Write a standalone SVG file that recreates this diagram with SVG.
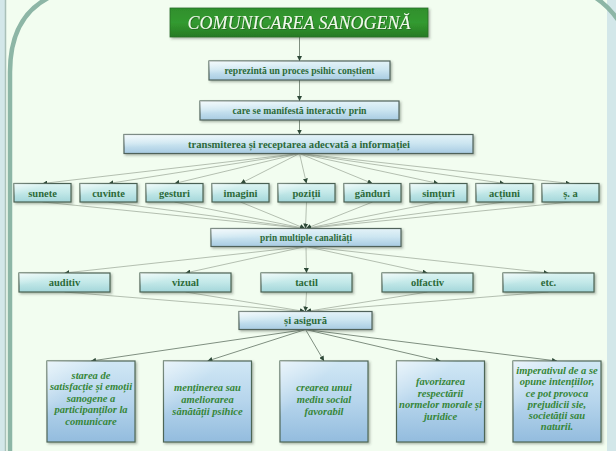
<svg xmlns="http://www.w3.org/2000/svg" width="616" height="451" viewBox="0 0 616 451">
  <defs>
    <style>
      .hdr { fill: url(#gBlue); stroke: #4f625a; stroke-width: 1.2; filter: url(#shadow); }
      .item { fill: url(#gTeal); stroke: #4a6152; stroke-width: 1.2; filter: url(#shadow); }
      .leaf { fill: url(#gLeaf); stroke: #4d6656; stroke-width: 1.2; filter: url(#shadow); }
      .sheen { fill: url(#gSheen); }
      .lbl { font-family: 'Liberation Serif', Tinos, 'DejaVu Serif', serif; font-weight: bold; font-size: 10.5px; fill: #2c6a39; text-anchor: middle; }
      .leaftxt { font-family: 'Liberation Serif', Tinos, 'DejaVu Serif', serif; font-weight: bold; font-style: italic; font-size: 10.5px; fill: #368638; text-anchor: middle; }
      .title { font-family: 'Liberation Serif', Tinos, 'DejaVu Serif', serif; font-style: italic; font-size: 18px; fill: #f1f9ec; text-anchor: middle; }
      .wire { stroke: #a3ae9f; stroke-width: 0.8; fill: none; marker-end: url(#tip); }
      .stem { stroke: #7f8f80; stroke-width: 1; fill: none; marker-end: url(#tip); }
    </style>
    <linearGradient id="gBlue" x1="0" y1="0" x2="0" y2="1">
      <stop offset="0" stop-color="#e4f3f8"/>
      <stop offset="0.45" stop-color="#cde6f1"/>
      <stop offset="1" stop-color="#a7cbe2"/>
    </linearGradient>
    <linearGradient id="gTeal" x1="0" y1="0" x2="0" y2="1">
      <stop offset="0" stop-color="#dcf4f2"/>
      <stop offset="0.5" stop-color="#c2e8e8"/>
      <stop offset="1" stop-color="#a3d6da"/>
    </linearGradient>
    <linearGradient id="gLeaf" x1="0" y1="0" x2="0" y2="1">
      <stop offset="0" stop-color="#d0e7f5"/>
      <stop offset="0.5" stop-color="#b6d5ec"/>
      <stop offset="1" stop-color="#93bcde"/>
    </linearGradient>
    <linearGradient id="gSheen" x1="0" y1="0" x2="1" y2="1">
      <stop offset="0" stop-color="#ffffff" stop-opacity="0.55"/>
      <stop offset="0.35" stop-color="#ffffff" stop-opacity="0"/>
    </linearGradient>
    <linearGradient id="gTitle" x1="0" y1="0" x2="0" y2="1">
      <stop offset="0" stop-color="#2f8f2c"/>
      <stop offset="0.5" stop-color="#339a30"/>
      <stop offset="1" stop-color="#267a24"/>
    </linearGradient>
    <filter id="shadow" x="-10%" y="-20%" width="125%" height="150%">
      <feDropShadow dx="1.5" dy="1.5" stdDeviation="1" flood-color="#3c4a40" flood-opacity="0.4"/>
    </filter>
    <filter id="tshadow" x="-5%" y="-20%" width="110%" height="150%">
      <feDropShadow dx="0.8" dy="0.8" stdDeviation="0.5" flood-color="#1c4a18" flood-opacity="0.6"/>
    </filter>
    <marker id="tip" viewBox="0 0 10 10" refX="10" refY="5" markerWidth="5" markerHeight="5" markerUnits="userSpaceOnUse" orient="auto">
      <path d="M0,0 L10,5 L0,10 z" fill="#2e4a38"/>
    </marker>
  </defs>

  <!-- backdrop and framed panel -->
  <rect x="0" y="0" width="616" height="451" fill="#d3e7e9"/>
  <rect x="6" y="0" width="601" height="451" fill="#f2fdf0"/>
  <line x1="5.5" y1="0" x2="5.5" y2="451" stroke="#a9c0b8" stroke-width="1.5"/>
  <path d="M10,451 L10,72 Q10,18 48,-2" fill="none" stroke="#8db6a6" stroke-width="4.5"/>
  <path d="M596,-2 Q611,8 622,26" fill="none" stroke="#8db6a6" stroke-width="4.5"/>

  <!-- connectors -->
  <g id="connectors">
    <line class="stem" x1="299.5" y1="37" x2="299.5" y2="61"/>
    <line class="stem" x1="299.5" y1="80" x2="299.5" y2="101"/>
    <line class="stem" x1="299.5" y1="120" x2="299.5" y2="134.5"/>

    <line class="wire" x1="299.5" y1="153.5" x2="42.5" y2="183.5"/>
    <line class="wire" x1="299.5" y1="153.5" x2="108.5" y2="183.5"/>
    <line class="wire" x1="299.5" y1="153.5" x2="174.5" y2="183.5"/>
    <line class="wire" x1="299.5" y1="153.5" x2="240.5" y2="183.5"/>
    <line class="wire" x1="299.5" y1="153.5" x2="306.5" y2="183.5"/>
    <line class="wire" x1="299.5" y1="153.5" x2="372.5" y2="183.5"/>
    <line class="wire" x1="299.5" y1="153.5" x2="438.5" y2="183.5"/>
    <line class="wire" x1="299.5" y1="153.5" x2="504.5" y2="183.5"/>
    <line class="wire" x1="299.5" y1="153.5" x2="570.5" y2="183.5"/>

    <line class="wire" x1="42.5" y1="202" x2="305" y2="228.5"/>
    <line class="wire" x1="108.5" y1="202" x2="305" y2="228.5"/>
    <line class="wire" x1="174.5" y1="202" x2="305" y2="228.5"/>
    <line class="wire" x1="240.5" y1="202" x2="305" y2="228.5"/>
    <line class="wire" x1="306.5" y1="202" x2="305.5" y2="228.5"/>
    <line class="wire" x1="372.5" y1="202" x2="306" y2="228.5"/>
    <line class="wire" x1="438.5" y1="202" x2="306" y2="228.5"/>
    <line class="wire" x1="504.5" y1="202" x2="306" y2="228.5"/>
    <line class="wire" x1="570.5" y1="202" x2="306" y2="228.5"/>

    <line class="wire" x1="306" y1="246.5" x2="64.5" y2="273"/>
    <line class="wire" x1="306" y1="246.5" x2="185.5" y2="273"/>
    <line class="wire" x1="306" y1="246.5" x2="306.5" y2="273"/>
    <line class="wire" x1="306" y1="246.5" x2="427.5" y2="273"/>
    <line class="wire" x1="306" y1="246.5" x2="548.5" y2="273"/>

    <line class="wire" x1="64.5" y1="292" x2="305" y2="311.5"/>
    <line class="wire" x1="185.5" y1="292" x2="305" y2="311.5"/>
    <line class="wire" x1="306.5" y1="292" x2="305.5" y2="311.5"/>
    <line class="wire" x1="427.5" y1="292" x2="306" y2="311.5"/>
    <line class="wire" x1="548.5" y1="292" x2="306" y2="311.5"/>

    <line class="stem" x1="305.5" y1="329.5" x2="91" y2="361"/>
    <line class="stem" x1="305.5" y1="329.5" x2="207.5" y2="361"/>
    <line class="stem" x1="305.5" y1="329.5" x2="324" y2="361"/>
    <line class="stem" x1="305.5" y1="329.5" x2="440.5" y2="361"/>
    <line class="stem" x1="305.5" y1="329.5" x2="557" y2="361"/>
  </g>

  <!-- title -->
  <g id="title">
    <rect x="170" y="8" width="258" height="29" fill="url(#gTitle)" stroke="#2a6e26" stroke-width="0.8" filter="url(#shadow)"/>
    <text class="title" x="299" y="28.5" textLength="223" lengthAdjust="spacingAndGlyphs" filter="url(#tshadow)">COMUNICAREA SANOGENĂ</text>
  </g>

  <!-- chain of statements -->
  <g id="n-reprezinta">
    <rect class="hdr" x="209" y="61" width="181" height="19"/>
    <rect class="sheen" x="209" y="61" width="181" height="19"/>
    <text class="lbl" x="299.5" y="74" textLength="150" lengthAdjust="spacingAndGlyphs">reprezintă un proces psihic conștient</text>
  </g>
  <g id="n-manifesta">
    <rect class="hdr" x="200" y="101" width="199" height="19"/>
    <rect class="sheen" x="200" y="101" width="199" height="19"/>
    <text class="lbl" x="299.5" y="114" textLength="134" lengthAdjust="spacingAndGlyphs">care se manifestă interactiv prin</text>
  </g>
  <g id="n-transmiterea">
    <rect class="hdr" x="124" y="134.5" width="349" height="19"/>
    <rect class="sheen" x="124" y="134.5" width="349" height="19"/>
    <text class="lbl" x="299" y="147.5" textLength="222" lengthAdjust="spacingAndGlyphs">transmiterea și receptarea adecvată a informației</text>
  </g>

  <!-- forms of expression -->
  <g id="n-sunete"><rect class="item" x="14" y="183.5" width="57" height="18.5"/><rect class="sheen" x="14" y="183.5" width="57" height="18.5"/><text class="lbl" x="42.5" y="196.5">sunete</text></g>
  <g id="n-cuvinte"><rect class="item" x="80" y="183.5" width="57" height="18.5"/><rect class="sheen" x="80" y="183.5" width="57" height="18.5"/><text class="lbl" x="108.5" y="196.5">cuvinte</text></g>
  <g id="n-gesturi"><rect class="item" x="146" y="183.5" width="57" height="18.5"/><rect class="sheen" x="146" y="183.5" width="57" height="18.5"/><text class="lbl" x="174.5" y="196.5">gesturi</text></g>
  <g id="n-imagini"><rect class="item" x="212" y="183.5" width="57" height="18.5"/><rect class="sheen" x="212" y="183.5" width="57" height="18.5"/><text class="lbl" x="240.5" y="196.5">imagini</text></g>
  <g id="n-pozitii"><rect class="item" x="278" y="183.5" width="57" height="18.5"/><rect class="sheen" x="278" y="183.5" width="57" height="18.5"/><text class="lbl" x="306.5" y="196.5">poziții</text></g>
  <g id="n-ganduri"><rect class="item" x="344" y="183.5" width="57" height="18.5"/><rect class="sheen" x="344" y="183.5" width="57" height="18.5"/><text class="lbl" x="372.5" y="196.5">gânduri</text></g>
  <g id="n-simturi"><rect class="item" x="410" y="183.5" width="57" height="18.5"/><rect class="sheen" x="410" y="183.5" width="57" height="18.5"/><text class="lbl" x="438.5" y="196.5">simțuri</text></g>
  <g id="n-actiuni"><rect class="item" x="476" y="183.5" width="57" height="18.5"/><rect class="sheen" x="476" y="183.5" width="57" height="18.5"/><text class="lbl" x="504.5" y="196.5">acțiuni</text></g>
  <g id="n-sa"><rect class="item" x="542" y="183.5" width="57" height="18.5"/><rect class="sheen" x="542" y="183.5" width="57" height="18.5"/><text class="lbl" x="570.5" y="196.5">ș. a</text></g>

  <g id="n-canalitati">
    <rect class="hdr" x="211" y="228.5" width="190" height="18"/>
    <rect class="sheen" x="211" y="228.5" width="190" height="18"/>
    <text class="lbl" x="306" y="241" textLength="92" lengthAdjust="spacingAndGlyphs">prin multiple canalități</text>
  </g>

  <!-- channels -->
  <g id="n-auditiv"><rect class="item" x="19" y="273" width="91" height="19"/><rect class="sheen" x="19" y="273" width="91" height="19"/><text class="lbl" x="64.5" y="286">auditiv</text></g>
  <g id="n-vizual"><rect class="item" x="140" y="273" width="91" height="19"/><rect class="sheen" x="140" y="273" width="91" height="19"/><text class="lbl" x="185.5" y="286">vizual</text></g>
  <g id="n-tactil"><rect class="item" x="261" y="273" width="91" height="19"/><rect class="sheen" x="261" y="273" width="91" height="19"/><text class="lbl" x="306.5" y="286">tactil</text></g>
  <g id="n-olfactiv"><rect class="item" x="382" y="273" width="91" height="19"/><rect class="sheen" x="382" y="273" width="91" height="19"/><text class="lbl" x="427.5" y="286">olfactiv</text></g>
  <g id="n-etc"><rect class="item" x="503" y="273" width="91" height="19"/><rect class="sheen" x="503" y="273" width="91" height="19"/><text class="lbl" x="548.5" y="286">etc.</text></g>

  <g id="n-asigura">
    <rect class="hdr" x="239" y="311.5" width="133" height="18"/>
    <rect class="sheen" x="239" y="311.5" width="133" height="18"/>
    <text class="lbl" x="305.5" y="324">și asigură</text>
  </g>

  <!-- outcomes -->
  <g id="n-starea">
    <rect class="leaf" x="47" y="361" width="88" height="81"/>
    <rect class="sheen" x="47" y="361" width="88" height="81"/>
    <text class="leaftxt" x="91" y="378.5">starea de</text>
    <text class="leaftxt" x="91" y="390">satisfacție și emoții</text>
    <text class="leaftxt" x="91" y="401.5">sanogene a</text>
    <text class="leaftxt" x="91" y="413">participanților la</text>
    <text class="leaftxt" x="91" y="424.5">comunicare</text>
  </g>
  <g id="n-mentinerea">
    <rect class="leaf" x="163.5" y="361" width="88" height="81"/>
    <rect class="sheen" x="163.5" y="361" width="88" height="81"/>
    <text class="leaftxt" x="207.5" y="391">menținerea sau</text>
    <text class="leaftxt" x="207.5" y="402.5">ameliorarea</text>
    <text class="leaftxt" x="207.5" y="414.5">sănătății psihice</text>
  </g>
  <g id="n-crearea">
    <rect class="leaf" x="280" y="361" width="88" height="81"/>
    <rect class="sheen" x="280" y="361" width="88" height="81"/>
    <text class="leaftxt" x="324" y="391">crearea unui</text>
    <text class="leaftxt" x="324" y="402.5">mediu social</text>
    <text class="leaftxt" x="324" y="414.5">favorabil</text>
  </g>
  <g id="n-favorizarea">
    <rect class="leaf" x="396.5" y="361" width="88" height="81"/>
    <rect class="sheen" x="396.5" y="361" width="88" height="81"/>
    <text class="leaftxt" x="440.5" y="385">favorizarea</text>
    <text class="leaftxt" x="440.5" y="396.5">respectării</text>
    <text class="leaftxt" x="440.5" y="408">normelor morale și</text>
    <text class="leaftxt" x="440.5" y="420">juridice</text>
  </g>
  <g id="n-imperativul">
    <rect class="leaf" x="513" y="361" width="88" height="81"/>
    <rect class="sheen" x="513" y="361" width="88" height="81"/>
    <text class="leaftxt" x="557" y="373.5">imperativul de a se</text>
    <text class="leaftxt" x="557" y="385">opune intențiilor,</text>
    <text class="leaftxt" x="557" y="396.5">ce pot provoca</text>
    <text class="leaftxt" x="557" y="408">prejudicii sie,</text>
    <text class="leaftxt" x="557" y="419">societății sau</text>
    <text class="leaftxt" x="557" y="430">naturii.</text>
  </g>
</svg>
